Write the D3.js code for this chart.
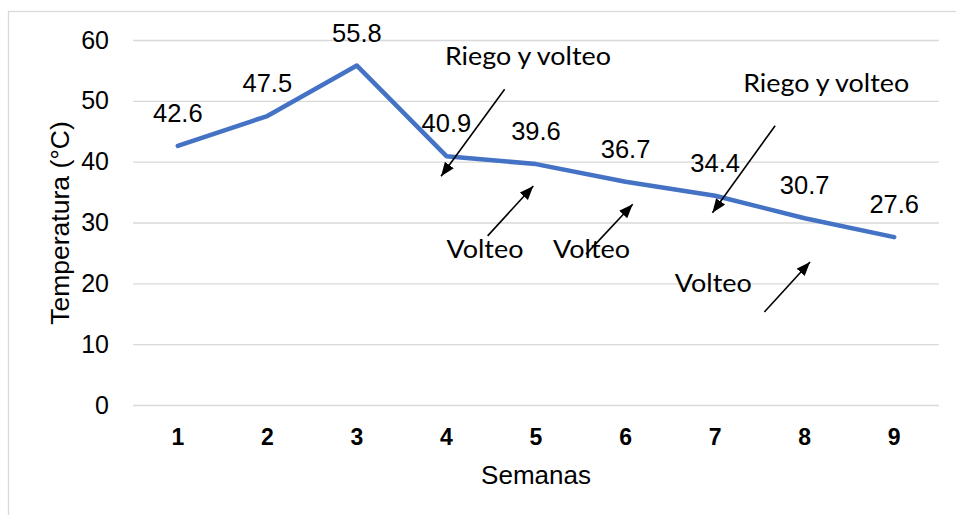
<!DOCTYPE html>
<html>
<head>
<meta charset="utf-8">
<script src="https://cdn.jsdelivr.net/npm/d3@7"></script>
<style>
  body { margin: 0; background: #fff; }
  svg { display: block; }
</style>
</head>
<body>
<div id="chart"></div>
<script>
// data
const weeks = ['1', '2', '3', '4', '5', '6', '7', '8', '9'];
const temps = [42.6, 47.5, 55.8, 40.9, 39.6, 36.7, 34.4, 30.7, 27.6];
const yTicks = [0, 10, 20, 30, 40, 50, 60];

// annotations, placed in chart units (week, °C)
const noteText = ['Riego y volteo', 'Riego y volteo', 'Volteo', 'Volteo', 'Volteo'];
const noteWeek = [4.91, 8.24, 4.43, 5.62, 6.98];
const noteTemp = [55.9, 51.5, 24.2, 24.2, 18.6];
const arrowFromWeek = [4.65, 7.67, 4.46, 5.56, 7.55];
const arrowFromTemp = [51.9, 45.9, 27.8, 24.8, 15.3];
const arrowToWeek = [3.94, 6.97, 4.97, 6.08, 8.06];
const arrowToTemp = [37.6, 31.6, 36.0, 33.0, 23.5];

const width = 956, height = 515;
const margin = { top: 40, right: 17, bottom: 110, left: 133 };
const arial = '"Liberation Sans", Arial, sans-serif';

const svg = d3.select('#chart')
    .append('svg')
    .attr('width', width)
    .attr('height', height);

// frame, cut off at the right and bottom
svg.append('rect')
    .attr('x', 8.5).attr('y', 11.5)
    .attr('width', 1200).attr('height', 1200)
    .attr('fill', 'none')
    .attr('stroke', '#d9d9d9')
    .attr('stroke-width', 1.3);

const x = d3.scaleBand(weeks, [margin.left, width - margin.right]);
const y = d3.scaleLinear([0, 60], [height - margin.bottom, margin.top]);
const xw = d3.scaleLinear([1, 9], [x('1') + x.bandwidth() / 2, x('9') + x.bandwidth() / 2]);

// grid + y labels
let yAxis = svg.append('g')
    .attr('transform', `translate(${margin.left},0)`)
    .call(d3.axisLeft(y).tickValues(yTicks).tickSize(-(width - margin.left - margin.right)).tickPadding(24));
yAxis.select('.domain').remove();
yAxis.selectAll('.tick line').attr('stroke', '#d9d9d9').attr('stroke-width', 1.3);
yAxis.selectAll('.tick text')
    .attr('font-family', arial)
    .attr('font-size', 25)
    .attr('fill', '#000');

// x labels
let xAxis = svg.append('g')
    .attr('transform', `translate(0,${height - margin.bottom})`)
    .call(d3.axisBottom(x).tickSize(0).tickPadding(24));
xAxis.select('.domain').remove();
xAxis.selectAll('.tick text')
    .attr('font-family', arial)
    .attr('font-size', 23)
    .attr('font-weight', 'bold')
    .attr('fill', '#000');

svg.append('text')
    .attr('x', (margin.left + width - margin.right) / 2)
    .attr('y', 484)
    .attr('text-anchor', 'middle')
    .attr('font-family', arial)
    .attr('font-size', 26)
    .text('Semanas');

svg.append('text')
    .attr('transform', 'translate(60,223) rotate(-90)')
    .attr('text-anchor', 'middle')
    .attr('dominant-baseline', 'central')
    .attr('font-family', arial)
    .attr('font-size', 26.5)
    .text('Temperatura (°C)');

// line
const line = d3.line()
    .x((d, i) => x(weeks[i]) + x.bandwidth() / 2)
    .y(d => y(d));

svg.append('path')
    .datum(temps)
    .attr('fill', 'none')
    .attr('stroke', '#4472c4')
    .attr('stroke-width', 4.5)
    .attr('stroke-linejoin', 'round')
    .attr('stroke-linecap', 'round')
    .attr('d', line);

// value labels
svg.append('g')
    .selectAll('text')
    .data(temps)
    .join('text')
    .attr('x', (d, i) => x(weeks[i]) + x.bandwidth() / 2)
    .attr('y', d => y(d) - 24)
    .attr('text-anchor', 'middle')
    .attr('font-family', arial)
    .attr('font-size', 25.5)
    .attr('fill', '#000')
    .text(d => d.toFixed(1));

// arrows
svg.append('defs').append('marker')
    .attr('id', 'head')
    .attr('markerUnits', 'userSpaceOnUse')
    .attr('markerWidth', 15).attr('markerHeight', 12)
    .attr('refX', 14).attr('refY', 5.5)
    .attr('orient', 'auto')
    .append('path')
    .attr('d', 'M0,0 L14,5.5 L0,11 Z')
    .attr('fill', '#000');

svg.append('g')
    .selectAll('line')
    .data(arrowFromWeek)
    .join('line')
    .attr('x1', (d, i) => xw(d))
    .attr('y1', (d, i) => y(arrowFromTemp[i]))
    .attr('x2', (d, i) => xw(arrowToWeek[i]))
    .attr('y2', (d, i) => y(arrowToTemp[i]))
    .attr('stroke', '#000')
    .attr('stroke-width', 1.6)
    .attr('marker-end', 'url(#head)');

// the notes are wider than Lato sets them, so stretch to the measured width
svg.append('g')
    .selectAll('text')
    .data(noteText)
    .join('text')
    .attr('x', (d, i) => xw(noteWeek[i]))
    .attr('y', (d, i) => y(noteTemp[i]))
    .attr('text-anchor', 'middle')
    .attr('font-family', 'Lato, "Open Sans", sans-serif')
    .attr('font-size', 25)
    .attr('fill', '#000')
    .attr('textLength', d => d.length > 6 ? 166 : 77)
    .attr('lengthAdjust', 'spacingAndGlyphs')
    .text(d => d);
</script>
</body>
</html>
